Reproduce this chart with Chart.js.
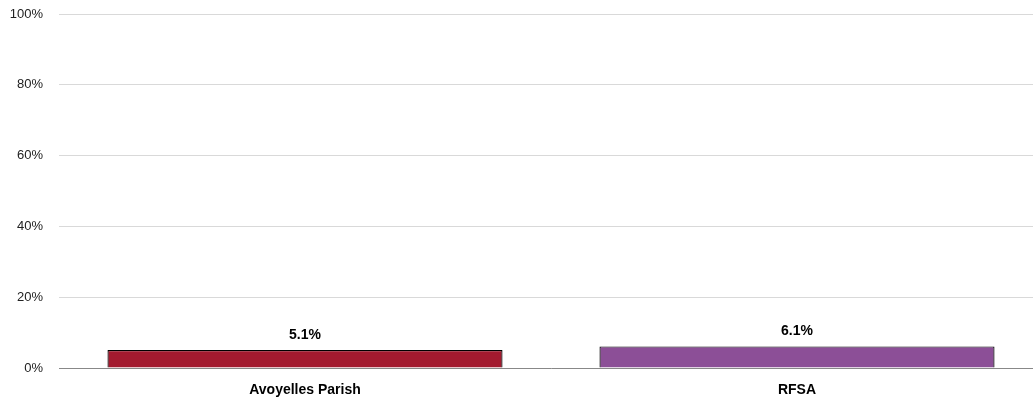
<!DOCTYPE html>
<html>
<head>
<meta charset="utf-8">
<script src="https://cdn.jsdelivr.net/npm/chart.js@4/dist/chart.umd.min.js"></script>
<style>
  html, body { margin: 0; padding: 0; background: #fff; overflow: hidden; }
  #wrap { position: relative; width: 1043px; height: 402px; }
</style>
</head>
<body>
<div id="wrap"><canvas id="chart"></canvas></div>
<script>
const categories = ['Avoyelles Parish', 'RFSA'];
const values = [5.1, 6.1];
const barColors = ['#A31A2F', '#8C4F97'];
const yTicks = [0, 20, 40, 60, 80, 100];

// value labels drawn above each bar
const valueLabels = {
    id: 'valueLabels',
    afterDatasetsDraw(chart) {
        const ctx = chart.ctx;
        const meta = chart.getDatasetMeta(0);
        ctx.save();
        ctx.font = 'bold 14px "Liberation Sans", Arial, sans-serif';
        ctx.fillStyle = '#000';
        ctx.textAlign = 'center';
        ctx.textBaseline = 'bottom';
        meta.data.forEach((bar, i) => {
            ctx.fillText(values[i].toFixed(1) + '%', bar.x, bar.y - 8);
        });
        ctx.restore();
    }
};

new Chart(document.getElementById('chart'), {
    type: 'bar',
    data: {
        labels: categories,
        datasets: [{
            data: values,
            backgroundColor: barColors,
            borderColor: '#000',
            borderWidth: 1.2,
            categoryPercentage: 1,
            barPercentage: 0.803
        }]
    },
    options: {
        responsive: true,
        maintainAspectRatio: false,
        animation: false,
        layout: { padding: { top: 14, right: 0, left: 0, bottom: 0 } },
        plugins: {
            legend: { display: false },
            tooltip: { enabled: false }
        },
        scales: {
            x: {
                grid: { display: false, drawTicks: false },
                border: { color: '#888', width: 1 },
                ticks: {
                    color: '#000',
                    padding: 14,
                    font: { family: '"Liberation Sans", Arial, sans-serif', size: 14, weight: 'bold' }
                },
                afterFit(scale) {
                    scale.height = 34;
                    scale.paddingLeft = 0;
                    scale.paddingRight = 0;
                }
            },
            y: {
                min: 0,
                max: 100,
                afterBuildTicks(scale) { scale.ticks = yTicks.map(v => ({ value: v })); },
                grid: { color: '#d9d9d9', drawTicks: false },
                border: { display: false },
                ticks: {
                    color: '#222',
                    padding: 16,
                    font: { family: '"Liberation Sans", Arial, sans-serif', size: 13 },
                    callback: v => v + '%'
                },
                afterFit(scale) {
                    scale.width = 59;
                    scale.paddingTop = 0;
                    scale.paddingBottom = 0;
                }
            }
        }
    },
    plugins: [valueLabels]
});
</script>
</body>
</html>
